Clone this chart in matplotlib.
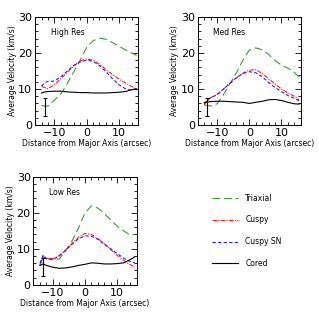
"""Average velocity profiles across the major axis for three resolutions."""

import matplotlib

matplotlib.use("Agg")  # No display in the sandbox.

import matplotlib.pyplot as plt  # Plotting.
from matplotlib.ticker import MultipleLocator  # Major/minor tick spacing.

# Shared slit positions (arcsec) for every model curve.
distance = [-14, -13, -12, -10, -8, -6, -4, -2, 0, 2, 4, 6, 8, 10, 12, 14, 15.5]

# High resolution panel.
high_triaxial = [5.5, 5.2, 5.3, 6.9, 8.6, 11.5, 14.8, 18.0, 21.5, 23.4, 24.1, 23.8, 22.9, 21.9, 20.9, 20.0, 19.3]
high_cuspy = [10.7, 10.4, 10.1, 11.2, 12.9, 14.6, 16.4, 17.8, 18.3, 18.0, 16.9, 15.4, 14.0, 12.8, 11.7, 10.7, 10.0]
high_cuspy_sn = [10.8, 11.8, 12.1, 12.2, 13.4, 15.0, 16.5, 17.5, 18.0, 17.7, 16.5, 14.8, 12.9, 11.2, 10.1, 9.6, 10.2]
high_cored = [8.9, 9.2, 9.3, 9.4, 9.4, 9.2, 9.1, 9.0, 9.0, 8.9, 8.9, 8.9, 9.0, 9.1, 9.3, 9.8, 10.0]

# Medium resolution panel.
med_triaxial = [5.6, 5.4, 5.3, 5.9, 8.5, 11.5, 14.5, 18.0, 20.8, 21.4, 20.9, 19.6, 17.9, 16.6, 15.8, 14.6, 13.3]
med_cuspy = [5.6, 6.8, 7.6, 8.5, 10.0, 11.6, 13.1, 14.4, 15.2, 15.4, 14.3, 12.8, 11.4, 10.0, 8.9, 8.0, 7.0]
med_cuspy_sn = [5.9, 6.9, 7.6, 8.4, 10.0, 11.6, 13.1, 14.3, 14.8, 14.5, 13.4, 11.8, 10.4, 9.3, 8.2, 7.4, 6.7]
med_cored = [6.2, 6.4, 6.5, 6.6, 6.6, 6.5, 6.4, 6.3, 6.0, 6.3, 6.6, 7.0, 7.1, 6.8, 6.3, 5.9, 5.8]

# Low resolution panel.
low_triaxial = [5.3, 7.8, 7.4, 7.0, 7.2, 9.5, 12.2, 15.8, 20.0, 21.9, 21.3, 19.8, 18.0, 16.3, 15.0, 13.8, 14.0]
low_cuspy = [5.5, 7.8, 7.3, 7.3, 8.1, 9.7, 11.5, 13.2, 14.3, 14.0, 12.9, 11.4, 9.8, 8.2, 6.8, 5.6, 4.9]
low_cuspy_sn = [6.0, 8.3, 7.2, 7.0, 8.0, 9.6, 11.3, 12.8, 13.6, 13.5, 12.6, 11.3, 10.0, 8.7, 7.4, 6.5, 6.1]
low_cored = [5.4, 5.8, 5.4, 4.9, 4.6, 4.7, 5.0, 5.4, 5.7, 6.1, 6.0, 5.8, 5.8, 5.9, 6.1, 7.0, 7.8]

# Observed error bar drawn in each panel.
error_x = [-13]
error_y = [5.0]
error_size = [2.5]

panel_titles = ["High Res", "Med Res", "Low Res"]
series_names = ["Triaxial", "Cuspy", "Cuspy SN", "Cored"]

STYLES = {
    "Triaxial": dict(color="#3a9a3a", dashes=(7, 3.5)),
    "Cuspy": dict(color="#ff2020", dashes=(4, 1.2, 1, 1.2)),
    "Cuspy SN": dict(color="#2020ff", dashes=(3, 2)),
    "Cored": dict(color="black", linestyle="-"),
}

PANELS = [
    (panel_titles[0], [high_triaxial, high_cuspy, high_cuspy_sn, high_cored], [0.110, 0.608]),
    (panel_titles[1], [med_triaxial, med_cuspy, med_cuspy_sn, med_cored], [0.620, 0.608]),
    (panel_titles[2], [low_triaxial, low_cuspy, low_cuspy_sn, low_cored], [0.105, 0.107]),
]
AX_W, AX_H = 0.323, 0.339

plt.rcParams["font.family"] = ["DejaVu Sans"]

fig = plt.figure(figsize=(3.19, 3.19), dpi=100)

for title, curves, (left, bottom) in PANELS:
    ax = fig.add_axes([left, bottom, AX_W, AX_H])
    for name, values in zip(series_names, curves):
        ax.plot(distance, values, lw=0.8, **STYLES[name])
    ax.errorbar(error_x, error_y, yerr=error_size, fmt="none", ecolor="black",
                elinewidth=0.8, capsize=1.5, capthick=0.8)
    ax.text(0.15, 0.83, title, transform=ax.transAxes, fontsize=5.5)

    ax.set_xlim(-16, 16)
    ax.set_ylim(0, 30)
    ax.xaxis.set_major_locator(MultipleLocator(10))
    ax.xaxis.set_minor_locator(MultipleLocator(2))
    ax.yaxis.set_major_locator(MultipleLocator(10))
    ax.yaxis.set_minor_locator(MultipleLocator(2))
    ax.tick_params(which="both", direction="in", top=True, right=True, width=0.6)
    ax.tick_params(which="major", length=4, labelsize=8, pad=2)
    ax.tick_params(which="minor", length=2)
    for spine in ax.spines.values():
        spine.set_linewidth(0.7)
    ax.set_xlabel("Distance from Major Axis (arcsec)", fontsize=5.5, labelpad=1)
    ax.set_ylabel("Average Velocity (km/s)", fontsize=5.5, labelpad=1)

# Legend drawn as a separate, invisible axes in the empty lower-right slot.
leg_ax = fig.add_axes([0.62, 0.107, AX_W, AX_H])
leg_ax.set_xlim(0, 1)
leg_ax.set_ylim(0, 1)
leg_ax.axis("off")
for row, name in enumerate(series_names):
    y = 0.80 - row * 0.2
    leg_ax.plot([0.14, 0.39], [y, y], lw=0.8, **STYLES[name])
    leg_ax.text(0.46, y, name, fontsize=5.5, va="center")

fig.savefig("out.png", dpi=100)
plt.close(fig)
